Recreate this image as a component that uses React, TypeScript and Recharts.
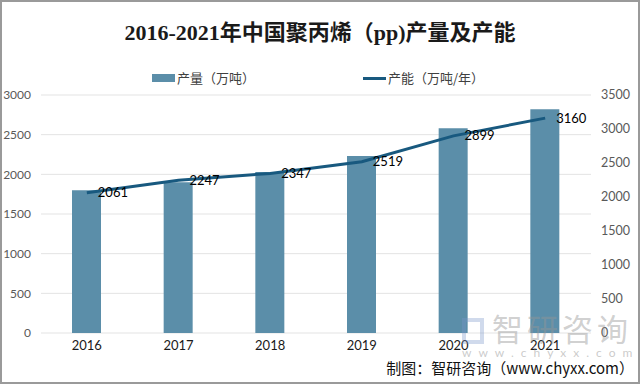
import React from "react";
import {
  ComposedChart,
  Bar,
  Line,
  XAxis,
  YAxis,
  CartesianGrid,
  LabelList,
} from "recharts";

const years = ["2016", "2017", "2018", "2019", "2020", "2021"];
const output = [1800, 1900, 2030, 2230, 2580, 2820];
const capacity = [2061, 2247, 2347, 2519, 2899, 3160];
const leftTicks = [0, 500, 1000, 1500, 2000, 2500, 3000];
const rightTicks = [0, 500, 1000, 1500, 2000, 2500, 3000, 3500];

const data = years.map((y, i) => ({ year: y, output: output[i], capacity: capacity[i] }));

const sans = "Lato, 'Noto Sans CJK SC', sans-serif";
const cjk = "'Noto Sans CJK SC', sans-serif";
const barColor = "#5b8ea9";
const lineColor = "#18597f";

export default function App() {
  return (
    <div
      style={{
        position: "absolute",
        left: 0,
        top: 0,
        width: 640,
        height: 384,
        background: "#fff",
        overflow: "hidden",
      }}
    >
      <ComposedChart
        width={640}
        height={384}
        data={data}
        margin={{ top: 95, right: 0, bottom: 0, left: 0 }}
      >
        <CartesianGrid yAxisId="left" vertical={false} stroke="#e3e3e3" />
        <XAxis
          dataKey="year"
          axisLine={false}
          tickLine={false}
          height={51}
          tick={{ fill: "#1a1a1a", fontSize: 13, fontFamily: sans }}
        />
        <YAxis
          yAxisId="left"
          orientation="left"
          width={41}
          domain={[0, 3000]}
          ticks={leftTicks}
          axisLine={false}
          tickLine={false}
          tickMargin={4}
          tick={{ fill: "#595959", fontSize: 12, fontFamily: sans }}
        />
        <YAxis
          yAxisId="right"
          orientation="right"
          width={49}
          domain={[0, 3500]}
          ticks={rightTicks}
          axisLine={false}
          tickLine={false}
          tickMargin={4}
          tick={{ fill: "#595959", fontSize: 12.5, fontFamily: sans }}
        />
        <Bar
          yAxisId="left"
          dataKey="output"
          fill={barColor}
          barSize={29}
          isAnimationActive={false}
        />
        <Line
          yAxisId="right"
          dataKey="capacity"
          stroke={lineColor}
          strokeWidth={3}
          dot={false}
          type="linear"
          isAnimationActive={false}
        >
          <LabelList
            dataKey="capacity"
            position="right"
            offset={11}
            fill="#000"
            fontSize={13}
            fontFamily={sans}
          />
        </Line>
      </ComposedChart>

      {/* Title */}
      <div
        style={{
          position: "absolute",
          left: 0,
          top: 18,
          width: 640,
          textAlign: "center",
          fontFamily: "'Liberation Serif', 'Noto Sans CJK SC', serif",
          fontWeight: "bold",
          fontSize: 22,
          lineHeight: "30px",
          color: "#1a1a1a",
        }}
      >
        2016-2021年中国聚丙烯（pp)产量及产能
      </div>

      {/* Legend */}
      <div style={{ position: "absolute", left: 152, top: 74, width: 23, height: 8, background: barColor }} />
      <div
        style={{
          position: "absolute",
          left: 177,
          top: 69,
          fontFamily: cjk,
          fontSize: 13,
          lineHeight: "18px",
          color: "#404040",
          whiteSpace: "nowrap",
        }}
      >
        产量（万吨）
      </div>
      <div style={{ position: "absolute", left: 363, top: 77, width: 23, height: 3, background: lineColor }} />
      <div
        style={{
          position: "absolute",
          left: 388,
          top: 69,
          fontFamily: cjk,
          fontSize: 13,
          lineHeight: "18px",
          color: "#404040",
          whiteSpace: "nowrap",
        }}
      >
        产能（万吨/年）
      </div>

      {/* Watermark */}
      <div
        style={{
          position: "absolute",
          left: 462,
          top: 318,
          width: 22,
          height: 26,
          border: "4px solid rgba(120,150,200,0.35)",
          boxSizing: "border-box",
        }}
      />
      <div
        style={{
          position: "absolute",
          left: 492,
          top: 308,
          fontFamily: cjk,
          fontSize: 31,
          lineHeight: "40px",
          color: "rgba(150,150,150,0.45)",
          letterSpacing: 4,
          whiteSpace: "nowrap",
        }}
      >
        智研咨询
      </div>
      <div
        style={{
          position: "absolute",
          left: 462,
          top: 346,
          fontFamily: sans,
          fontSize: 12,
          lineHeight: "14px",
          color: "rgba(150,150,150,0.5)",
          letterSpacing: 7,
          whiteSpace: "nowrap",
        }}
      >
        www.chyxx.com
      </div>

      {/* Footer */}
      <div
        style={{
          position: "absolute",
          right: 6,
          top: 358,
          fontFamily: cjk,
          fontSize: 15,
          lineHeight: "20px",
          color: "#111",
          whiteSpace: "nowrap",
        }}
      >
        制图：智研咨询（www.chyxx.com）
      </div>

      {/* Frame */}
      <div
        style={{
          position: "absolute",
          left: 0,
          top: 0,
          width: 640,
          height: 384,
          border: "2px solid #9a9a9a",
          boxSizing: "border-box",
          pointerEvents: "none",
        }}
      />
    </div>
  );
}
